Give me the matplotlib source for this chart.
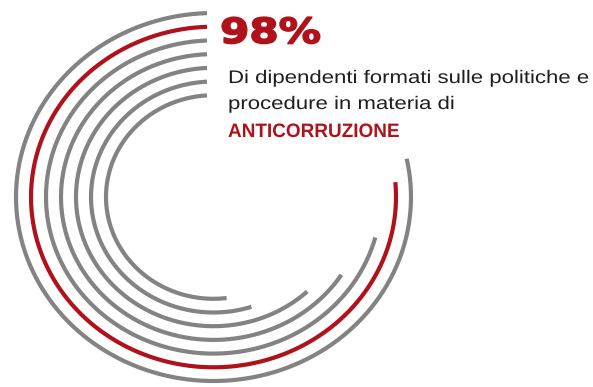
import numpy as np
import matplotlib.pyplot as plt
from matplotlib.patheffects import AbstractPathEffect
from matplotlib.transforms import Affine2D

# Concentric arcs, outermost first; angles in degrees (counterclockwise, 0 = right)
arc_colors = ['gray', 'red', 'gray', 'gray', 'gray', 'gray', 'gray']
arc_end_deg = [12, 5, -15, -33, -47, -72, -83]

headline = '98%'
body_lines = ['Di dipendenti formati sulle politiche e', 'procedure in materia di']
highlight = 'ANTICORRUZIONE'

GRAY = '#838383'
RED = '#b0121b'


class HStretch(AbstractPathEffect):
    """Widen a text horizontally about its left anchor."""

    def __init__(self, x0, trans, sx=1.0, stroke=0.0):
        super().__init__()
        self.x0, self.trans, self.sx, self.stroke = x0, trans, sx, stroke

    def draw_path(self, renderer, gc, tpath, affine, rgbFace=None):
        px = self.trans.transform((self.x0, 0))[0]
        st = Affine2D().translate(-px, 0).scale(self.sx, 1).translate(px, 0)
        if self.stroke > 0:
            gc0 = renderer.new_gc()
            gc0.copy_properties(gc)
            gc0.set_linewidth(self.stroke)
            gc0.set_foreground(rgbFace)
            renderer.draw_path(gc0, tpath, affine + st, rgbFace)
            gc0.restore()
        else:
            renderer.draw_path(gc, tpath, affine + st, rgbFace)


fig = plt.figure(figsize=(5.93, 3.87), dpi=100)
ax = fig.add_axes([0, 0, 1, 1])
ax.set_xlim(0, 593)
ax.set_ylim(387, 0)
ax.axis('off')

cx, cy = 213.5, 197.0
top_x = 207.0
for i, (c, end) in enumerate(zip(arc_colors, arc_end_deg)):
    a = 197.5 - 15.0 * i
    b = 184.0 - 13.7 * i
    start = 90 + np.degrees(np.arcsin((cx - top_x) / a))
    t = np.radians(np.linspace(start, 360 + end, 400))
    ax.plot(cx + a * np.cos(t), cy - b * np.sin(t),
            color=RED if c == 'red' else GRAY, lw=3.0, solid_capstyle='butt')

# (text, x, baseline y, size, weight, color, target width in px, stroke)
labels = [
    (headline, 220, 43, 25, 'bold', RED, 101, 1.2, 'DejaVu Sans'),
    (body_lines[0], 228, 83, 13.1, 'normal', '#1e1e1e', 360, 0, 'Liberation Sans'),
    (body_lines[1], 228, 109, 13.1, 'normal', '#1e1e1e', None, 0, 'Liberation Sans'),
    (highlight, 228, 137, 14.0, 'bold', RED, 172, 0, 'Liberation Sans'),
]

texts = []
for s, x, y, fs, fw, col, w, stroke, fam in labels:
    t = ax.text(x, y, s, color=col, fontsize=fs, fontweight=fw, family=fam,
                ha='left', va='baseline')
    t.set_path_effects([HStretch(x, ax.transData, 1.0, stroke)])
    texts.append((t, w))

fig.canvas.draw()
r = fig.canvas.get_renderer()
body_sx = 1.0
for t, w in texts:
    eff = t.get_path_effects()[0]
    if w is not None:
        eff.sx = w / t.get_window_extent(r).width
        if t.get_text() == body_lines[0]:
            body_sx = eff.sx
    else:
        eff.sx = body_sx

fig.savefig('out.png', dpi=100, facecolor='white')
